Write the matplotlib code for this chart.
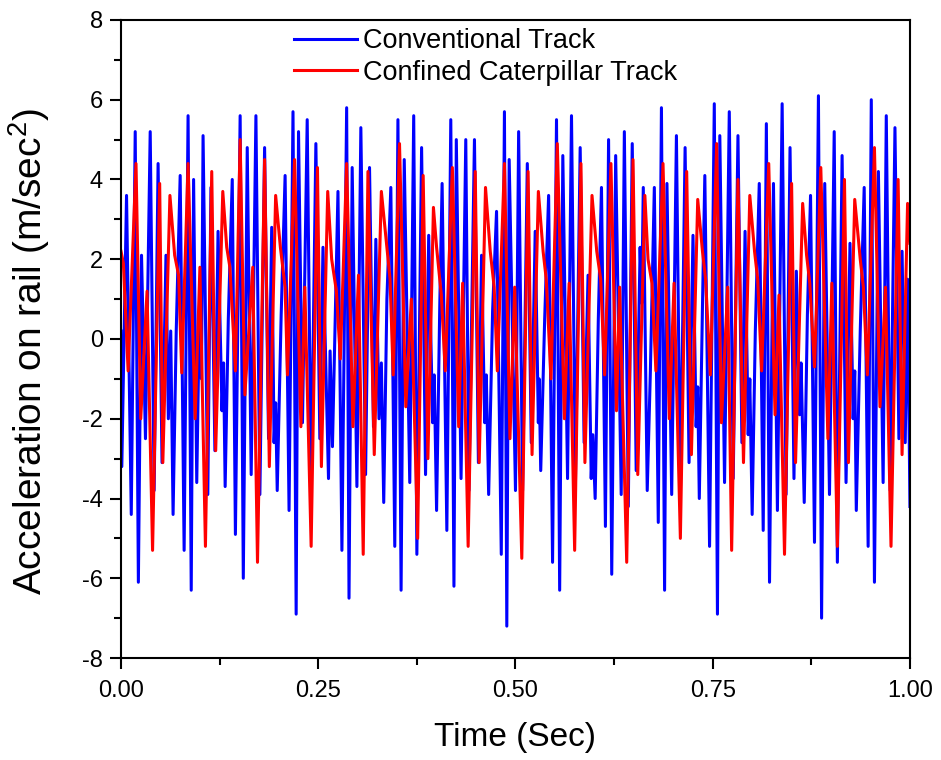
import matplotlib
matplotlib.use("Agg")
import matplotlib.pyplot as plt
from matplotlib.ticker import MultipleLocator

plt.rcParams["font.family"] = ["Liberation Sans", "DejaVu Sans"]
plt.rcParams["axes.unicode_minus"] = False
plt.rcParams["mathtext.fontset"] = "custom"
plt.rcParams["mathtext.rm"] = "Liberation Sans"
plt.rcParams["mathtext.default"] = "rm"

# ── data (extrema) ───────────────────────────────────────────────────────────
blue_t = [0.000, 0.001, 0.007, 0.013, 0.018, 0.022, 0.026, 0.031, 0.037, 0.042,
          0.047, 0.052, 0.057, 0.060, 0.063, 0.066, 0.070, 0.075, 0.080, 0.085,
          0.089, 0.092, 0.096, 0.100, 0.102, 0.104, 0.110, 0.114, 0.119, 0.123,
          0.128, 0.130, 0.132, 0.136, 0.141, 0.145, 0.151, 0.155, 0.160, 0.165,
          0.171, 0.176, 0.182, 0.187, 0.191, 0.194, 0.196, 0.198, 0.203, 0.208,
          0.213, 0.218, 0.222, 0.225, 0.230, 0.236, 0.241, 0.247, 0.252, 0.256,
          0.263, 0.265, 0.268, 0.275, 0.280, 0.286, 0.289, 0.293, 0.299, 0.304,
          0.310, 0.315, 0.320, 0.323, 0.327, 0.330, 0.333, 0.337, 0.342, 0.347,
          0.351, 0.355, 0.359, 0.366, 0.371, 0.375, 0.381, 0.386, 0.390, 0.395,
          0.397, 0.400, 0.404, 0.407, 0.413, 0.418, 0.422, 0.425, 0.431, 0.437,
          0.441, 0.448, 0.453, 0.457, 0.461, 0.463, 0.466, 0.471, 0.476, 0.482,
          0.486, 0.489, 0.492, 0.500, 0.504, 0.509, 0.515, 0.520, 0.525, 0.529,
          0.530, 0.532, 0.537, 0.542, 0.547, 0.552, 0.556, 0.560, 0.566, 0.571,
          0.576, 0.582, 0.587, 0.592, 0.596, 0.598, 0.601, 0.605, 0.609, 0.614,
          0.618, 0.622, 0.627, 0.634, 0.638, 0.643, 0.648, 0.653, 0.658, 0.660,
          0.662, 0.667, 0.671, 0.676, 0.681, 0.685, 0.689, 0.692, 0.698, 0.704,
          0.709, 0.715, 0.720, 0.725, 0.729, 0.731, 0.733, 0.737, 0.740, 0.746,
          0.752, 0.756, 0.759, 0.765, 0.771, 0.776, 0.782, 0.787, 0.791, 0.795,
          0.797, 0.800, 0.804, 0.809, 0.814, 0.818, 0.822, 0.827, 0.832, 0.838,
          0.843, 0.848, 0.853, 0.856, 0.860, 0.862, 0.866, 0.870, 0.874, 0.879,
          0.884, 0.888, 0.892, 0.898, 0.904, 0.908, 0.914, 0.919, 0.924, 0.928,
          0.930, 0.932, 0.937, 0.942, 0.947, 0.951, 0.955, 0.960, 0.966, 0.970,
          0.975, 0.981, 0.986, 0.990, 0.994, 0.997, 1.000]
blue_v = [0.2, -3.2, 3.6, -4.4, 5.2, -6.1, 2.1, -2.5, 5.2, -3.8,
          4.4, -3.1, 2.1, -2.0, 0.2, -4.4, 0.2, 4.1, -5.3, 5.6,
          -6.3, 4.0, -3.6, 1.5, -1.0, 5.1, -3.9, 3.8, -2.8, 2.7,
          -1.8, -0.6, -3.7, 0.5, 4.0, -4.9, 5.6, -6.0, 4.8, -3.4,
          5.6, -3.9, 4.8, -2.5, 2.8, -2.6, -1.6, -3.8, 0.6, 4.1,
          -4.3, 5.7, -6.9, 5.2, -2.1, 5.5, -3.8, 4.9, -2.5, 2.3,
          -3.5, -0.3, -2.7, 3.7, -5.3, 5.8, -6.5, 4.3, -3.7, 5.3,
          -3.4, 4.3, -2.2, 2.5, -2.0, -0.6, -4.1, 1.0, 3.8, -5.2,
          5.5, -6.3, 4.5, -3.6, 5.6, -5.4, 4.8, -3.4, 2.6, -2.1,
          -0.9, -4.3, 0.8, 3.9, -4.8, 5.5, -6.2, 5.0, -3.5, 5.0,
          -3.8, 5.0, -3.1, 2.1, -2.1, -0.9, -3.9, 0.7, 3.2, -5.4,
          5.7, -7.2, 4.5, -3.8, 5.2, -3.8, 4.4, -2.6, 2.7, -2.1,
          -1.0, -3.3, 0.5, 3.6, -5.6, 5.5, -6.3, 4.6, -3.5, 5.6,
          -3.6, 4.8, -2.6, 1.6, -3.5, -2.4, -4.0, 0.5, 3.8, -4.7,
          5.0, -5.9, 4.6, -3.9, 5.2, -4.2, 4.9, -3.3, 2.3, 0.9,
          3.8, -3.8, -0.8, 3.8, -4.6, 5.8, -6.3, 3.9, -3.9, 5.1,
          -3.9, 4.8, -3.1, 2.6, -2.2, -1.2, -4.0, 0.8, 4.1, -5.2,
          5.9, -6.9, 5.1, -3.6, 5.7, -3.5, 5.1, -2.6, 2.7, -2.4,
          -1.0, -4.4, 0.2, 3.9, -4.8, 5.4, -6.1, 3.9, -4.3, 5.9,
          -3.9, 4.8, -3.5, 1.7, -1.9, -0.6, -4.1, 0.6, 3.6, -5.1,
          6.1, -7.0, 3.9, -3.9, 5.2, -5.6, 4.6, -3.6, 2.4, -2.0,
          -0.8, -4.3, 0.2, 3.8, -5.2, 6.0, -6.1, 4.2, -3.6, 5.6,
          -3.8, 5.3, -2.5, 2.2, -2.6, 1.5, -4.2]

red_t = [0.000, 0.003, 0.009, 0.019, 0.025, 0.033, 0.040, 0.049, 0.053, 0.062,
         0.068, 0.073, 0.077, 0.085, 0.094, 0.100, 0.107, 0.115, 0.120, 0.129,
         0.134, 0.138, 0.145, 0.151, 0.157, 0.167, 0.173, 0.182, 0.188, 0.196,
         0.202, 0.208, 0.211, 0.220, 0.228, 0.233, 0.241, 0.249, 0.254, 0.262,
         0.267, 0.273, 0.278, 0.286, 0.294, 0.301, 0.307, 0.313, 0.321, 0.330,
         0.337, 0.341, 0.345, 0.353, 0.361, 0.368, 0.376, 0.383, 0.389, 0.396,
         0.400, 0.406, 0.411, 0.420, 0.428, 0.433, 0.440, 0.449, 0.454, 0.462,
         0.468, 0.473, 0.477, 0.486, 0.493, 0.499, 0.508, 0.516, 0.521, 0.529,
         0.535, 0.539, 0.545, 0.553, 0.562, 0.568, 0.575, 0.583, 0.588, 0.597,
         0.603, 0.608, 0.613, 0.621, 0.628, 0.632, 0.641, 0.649, 0.655, 0.664,
         0.668, 0.673, 0.678, 0.687, 0.695, 0.701, 0.709, 0.717, 0.723, 0.731,
         0.737, 0.741, 0.747, 0.755, 0.761, 0.769, 0.774, 0.782, 0.789, 0.797,
         0.803, 0.807, 0.812, 0.821, 0.829, 0.834, 0.841, 0.850, 0.855, 0.864,
         0.869, 0.873, 0.879, 0.887, 0.896, 0.901, 0.908, 0.917, 0.922, 0.930,
         0.937, 0.941, 0.946, 0.955, 0.962, 0.969, 0.976, 0.985, 0.990, 0.997,
         1.000]
red_v = [2.2, 1.9, -0.8, 4.4, -2.0, 1.2, -5.3, 3.9, -3.1, 3.6,
         2.1, 1.6, -0.85, 4.4, -2.0, 1.8, -5.2, 4.2, -2.8, 3.7,
         2.3, 1.8, -0.8, 5.0, -1.4, 1.8, -5.6, 4.5, -3.2, 3.6,
         2.3, 1.3, -0.9, 4.5, -2.2, 1.3, -5.2, 4.3, -3.2, 3.7,
         2.0, 1.2, -0.5, 4.4, -2.2, 1.6, -5.4, 4.2, -2.9, 3.7,
         2.3, 1.5, -0.9, 4.9, -1.7, 1.0, -5.0, 4.1, -3.0, 3.3,
         2.3, 1.1, -0.8, 4.3, -2.2, 1.4, -5.2, 4.2, -3.1, 3.8,
         2.2, 1.3, -0.8, 4.4, -2.5, 1.3, -5.5, 4.2, -2.9, 3.7,
         2.2, 1.5, -1.0, 4.9, -2.0, 1.4, -5.3, 4.4, -3.1, 3.6,
         2.2, 1.5, -0.9, 4.4, -1.8, 1.3, -5.6, 4.5, -3.4, 3.6,
         2.0, 1.4, -0.8, 4.4, -2.0, 1.4, -5.0, 4.2, -2.9, 3.5,
         2.2, 1.5, -0.9, 4.9, -2.1, 1.3, -5.3, 4.0, -3.1, 3.6,
         2.2, 1.5, -0.8, 4.4, -1.9, 1.1, -5.4, 3.9, -3.1, 3.4,
         2.1, 1.4, -0.7, 4.3, -2.5, 1.4, -5.2, 4.0, -3.1, 3.5,
         2.0, 1.3, -0.9, 4.8, -1.7, 1.3, -5.2, 4.0, -2.9, 3.4,
         2.4]

x_ticks = [0.00, 0.25, 0.50, 0.75, 1.00]
y_ticks = [-8, -6, -4, -2, 0, 2, 4, 6, 8]

# ── figure ───────────────────────────────────────────────────────────────────
fig = plt.figure(figsize=(9.41, 7.60), dpi=100)
ax = fig.add_axes([0.1286, 0.1342, 0.8384, 0.8395])

ax.plot(blue_t, blue_v, color="#0000FF", lw=2.2, label="Conventional Track")
ax.plot(red_t, red_v, color="#FF0000", lw=2.2, label="Confined Caterpillar Track")

ax.set_xlim(0, 1)
ax.set_ylim(-8, 8)
ax.set_xticks(x_ticks)
ax.set_xticklabels([f"{v:.2f}" for v in x_ticks])
ax.set_yticks(y_ticks)
ax.xaxis.set_minor_locator(MultipleLocator(0.125))
ax.yaxis.set_minor_locator(MultipleLocator(1))
ax.tick_params(which="major", direction="out", length=8, width=1.5,
               labelsize=17, pad=5)
ax.tick_params(axis="x", which="major", pad=8)
ax.tick_params(which="minor", direction="out", length=5, width=1.5)
for s in ax.spines.values():
    s.set_linewidth(1.5)

ax.set_xlabel("Time (Sec)", fontsize=24, labelpad=14)
ax.set_ylabel("Acceleration on rail (m/sec$^2$)", fontsize=28)
ax.yaxis.set_label_coords(-0.088, 0.48)

ax.legend(loc="upper left", bbox_to_anchor=(0.219, 0.987), frameon=False,
          fontsize=19.5, handlelength=2.33, handletextpad=0.22,
          labelspacing=0.2, borderpad=0, borderaxespad=0)

plt.savefig("out.png", dpi=100)
